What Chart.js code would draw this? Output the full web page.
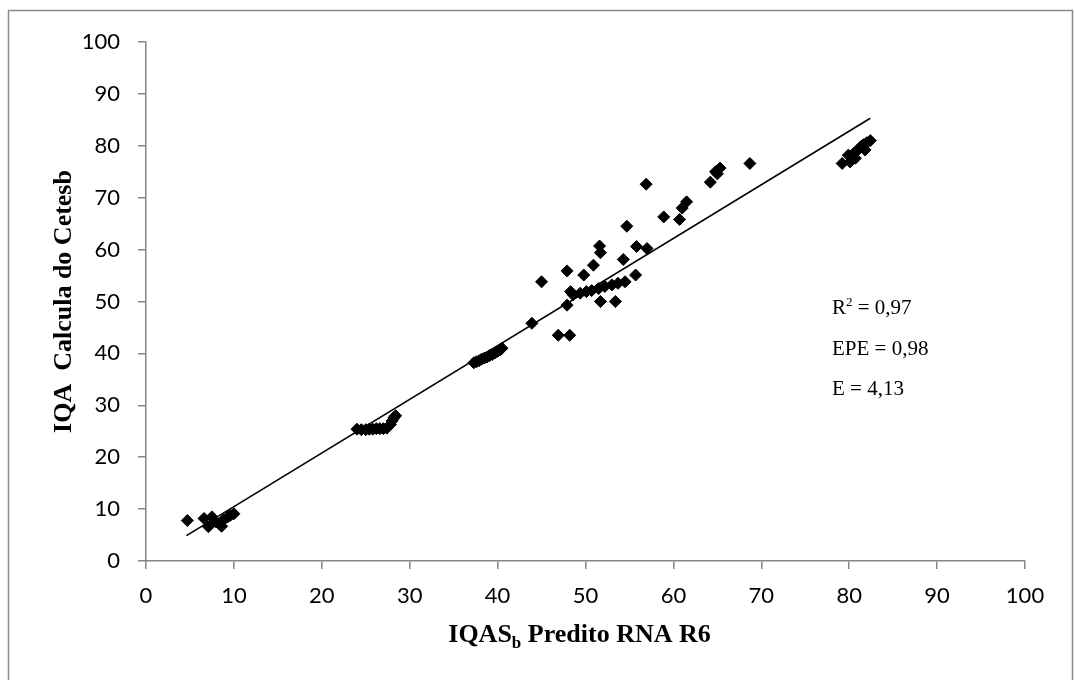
<!DOCTYPE html>
<html>
<head>
<meta charset="utf-8">
<script src="https://cdn.jsdelivr.net/npm/chart.js@4.4.0/dist/chart.umd.min.js"></script>
<style>
  html, body { margin: 0; padding: 0; background: #fff; }
  #wrap { width: 1074px; height: 680px; }
</style>
</head>
<body>
<div id="wrap"><canvas id="myChart" width="1074" height="680"></canvas></div>
<script>
// IQAS_b predito pela RNA R6 (x) contra o IQA calculado pela Cetesb (y)
var predito = [
  4.7, 6.6, 7.5, 7.1, 7.9, 8.6, 8.8, 9.3, 10.0, 8.3, 9.6,
  24.0, 24.5, 25.0, 25.4, 25.8, 26.2, 26.6, 27.0, 27.4, 27.8, 28.0, 28.2, 28.4,
  37.3, 37.6, 37.9, 38.2, 38.5, 38.8, 39.1, 39.4, 39.7, 40.0, 40.3, 40.5,
  43.9, 46.9, 48.2,
  45.0, 47.9, 49.8, 50.9, 51.6, 51.7, 54.7, 54.3, 55.8, 57.0, 56.9, 58.9, 60.7, 61.0, 61.5,
  55.7, 47.9, 51.7, 53.4, 48.3,
  48.6, 49.4, 50.1, 50.7, 51.5, 52.2, 53.0, 53.7, 54.5,
  64.2, 64.8, 65.3, 65.0, 68.7,
  79.2, 79.9, 80.1, 80.5, 81.0, 81.3, 81.6, 82.0, 82.4, 81.8, 80.7
];
var calculado = [
  7.8, 8.2, 8.5, 6.6, 7.6, 6.7, 7.9, 8.5, 9.1, 7.2, 8.8,
  25.4, 25.3, 25.3, 25.4, 25.4, 25.5, 25.5, 25.5, 25.6, 26.3, 27.0, 27.6, 28.0,
  38.2, 38.4, 38.6, 38.9, 39.1, 39.3, 39.6, 39.8, 40.1, 40.4, 40.7, 41.0,
  45.8, 43.5, 43.5,
  53.8, 55.9, 55.1, 57.0, 60.7, 59.4, 64.5, 58.1, 60.6, 60.2, 72.6, 66.3, 65.8, 68.0, 69.2,
  55.1, 49.3, 50.0, 50.0, 51.9,
  51.3, 51.6, 51.9, 52.1, 52.5, 52.9, 53.2, 53.5, 53.8,
  73.0, 75.0, 75.7, 74.6, 76.6,
  76.6, 78.2, 76.9, 78.5, 79.2, 79.8, 80.2, 80.6, 81.0, 79.2, 77.6
];
// reta de tendencia
var retaX = [4.6, 82.4];
var retaY = [4.9, 85.3];

var ticksEixo = [0, 10, 20, 30, 40, 50, 60, 70, 80, 90, 100];
var estatisticas = [
  { nome: 'R', exp: '2', valor: '0,97' },
  { nome: 'EPE', exp: '', valor: '0,98' },
  { nome: 'E', exp: '', valor: '4,13' }
];

var pontos = predito.map(function (v, i) { return { x: v, y: calculado[i] }; });
var reta = retaX.map(function (v, i) { return { x: v, y: retaY[i] }; });

var cinza = '#868686';
var serif = '"Liberation Serif", "Times New Roman", serif';

var moldura = {
  id: 'moldura',
  beforeDraw: function (chart) {
    var ctx = chart.ctx;
    ctx.save();
    ctx.fillStyle = '#fff';
    ctx.fillRect(0, 0, chart.width, chart.height);
    ctx.strokeStyle = '#8c8c8c';
    ctx.lineWidth = 1.5;
    ctx.strokeRect(8.5, 10.5, 1064, 700);
    ctx.restore();
  },
  afterDraw: function (chart) {
    var ctx = chart.ctx;
    var area = chart.chartArea;
    ctx.save();
    ctx.fillStyle = '#000';
    ctx.textBaseline = 'alphabetic';

    // titulo do eixo x com subscrito
    var fx = 'bold 26px ' + serif, fs = 'bold 17px ' + serif;
    ctx.font = fx;
    var w1 = ctx.measureText('IQAS').width;
    var w3 = ctx.measureText(' Predito RNA R6').width;
    ctx.font = fs;
    var w2 = ctx.measureText('b').width;
    var x0 = (area.left + area.right) / 2 - 6 - (w1 + w2 + w3) / 2;
    var by = 642;
    ctx.font = fx;
    ctx.fillText('IQAS', x0, by);
    ctx.font = fs;
    ctx.fillText('b', x0 + w1, by + 6);
    ctx.font = fx;
    ctx.fillText(' Predito RNA R6', x0 + w1 + w2, by);

    // titulo do eixo y, centrado na area do grafico
    ctx.save();
    ctx.translate(71, (area.top + area.bottom) / 2);
    ctx.rotate(-Math.PI / 2);
    ctx.textAlign = 'center';
    ctx.font = 'bold 26px ' + serif;
    ctx.fillText('IQA  Calcula do Cetesb', 0, 0);
    ctx.restore();

    // estatisticas do ajuste
    var tx = 832, ty = 314;
    estatisticas.forEach(function (s) {
      ctx.font = '21px ' + serif;
      ctx.fillText(s.nome, tx, ty);
      var w = ctx.measureText(s.nome).width;
      if (s.exp) {
        ctx.font = '13px ' + serif;
        ctx.fillText(s.exp, tx + w, ty - 8);
        w += ctx.measureText(s.exp).width;
        ctx.font = '21px ' + serif;
      }
      ctx.fillText(' = ' + s.valor, tx + w, ty);
      ty += 40.5;
    });
    ctx.restore();
  }
};

function eixo(larguraOuAltura, horizontal, pad) {
  return {
    type: 'linear',
    min: 0,
    max: 100,
    afterBuildTicks: function (scale) {
      scale.ticks = ticksEixo.map(function (v) { return { value: v }; });
    },
    afterFit: function (scale) {
      if (horizontal) scale.height = larguraOuAltura;
      else scale.width = larguraOuAltura;
    },
    grid: {
      drawOnChartArea: false,
      drawTicks: true,
      tickLength: 8,
      color: cinza,
      lineWidth: 1.5
    },
    border: { display: true, color: cinza, width: 1.5 },
    ticks: {
      color: '#000',
      padding: pad,
      font: { family: 'Lato', size: 22 }
    }
  };
}

new Chart(document.getElementById('myChart'), {
  type: 'scatter',
  data: {
    datasets: [
      {
        label: 'IQA',
        data: pontos,
        pointStyle: 'rectRot',
        pointRadius: 6,
        pointBackgroundColor: '#000',
        pointBorderColor: '#000',
        pointBorderWidth: 1
      },
      {
        type: 'line',
        label: 'Linear',
        data: reta,
        borderColor: '#000',
        borderWidth: 1.6,
        pointRadius: 0,
        fill: false
      }
    ]
  },
  options: {
    responsive: false,
    animation: false,
    layout: { padding: { left: 0, right: 49, top: 42, bottom: 0 } },
    plugins: {
      legend: { display: false },
      tooltip: { enabled: false }
    },
    scales: {
      x: eixo(119, true, 14),
      y: eixo(146, false, 18)
    }
  },
  plugins: [moldura]
});
</script>
</body>
</html>
